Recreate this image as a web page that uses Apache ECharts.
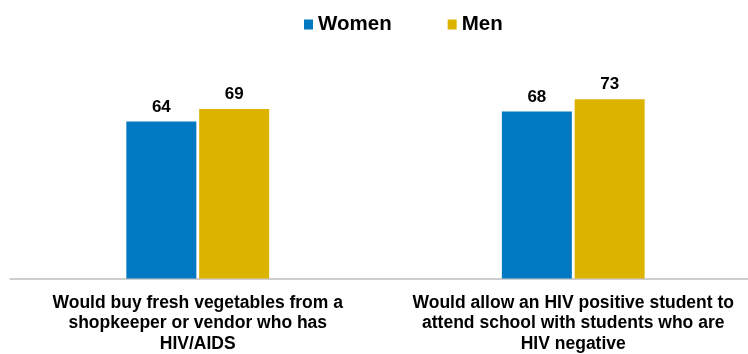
<!DOCTYPE html>
<html>
<head>
<meta charset="utf-8">
<script src="https://cdn.jsdelivr.net/npm/echarts@6/dist/echarts.min.js"></script>
<style>
html,body{margin:0;padding:0;background:#fff;overflow:hidden;width:748px;height:354px;}
#chart{width:761px;height:354px;}
</style>
</head>
<body>
<div id="chart"></div>
<script>
const categories = [
  'Would buy fresh vegetables from a\nshopkeeper or vendor who has\nHIV/AIDS',
  'Would allow an HIV positive student to\nattend school with students who are\nHIV negative'
];
const seriesNames = ['Women', 'Men'];
const women = [64, 68];
const men = [69, 73];

const FONT = "'Liberation Sans', Arial, sans-serif";
const chart = echarts.init(document.getElementById('chart'));
const labelCfg = {
  show: true, position: 'top', distance: 6,
  fontFamily: FONT, fontWeight: 'bold', fontSize: 17, color: '#000'
};
chart.setOption({
  animation: false,
  legend: {
    data: seriesNames,
    left: 304, top: 14, padding: 0,
    icon: 'rect', itemWidth: 9, itemHeight: 10, itemGap: 56,
    textStyle: { fontFamily: FONT, fontWeight: 'bold', fontSize: 20.5, color: '#000' }
  },
  grid: { left: 10, top: 33, right: 0, bottom: 71, containLabel: false },
  xAxis: {
    type: 'category', data: categories,
    axisLine: { lineStyle: { color: '#bfbfbf', width: 1.5 } },
    axisTick: { show: false },
    axisLabel: {
      interval: 0, margin: 14, fontFamily: FONT, fontWeight: 'bold',
      fontSize: 17.5, lineHeight: 20.5, color: '#000', align: 'center'
    }
  },
  yAxis: {
    type: 'value', min: 0, max: 100, show: false,
    splitLine: { show: false }
  },
  series: [
    { name: seriesNames[0], type: 'bar', data: women, barWidth: 70, barGap: '4%',
      itemStyle: { color: '#0079C2' }, label: labelCfg },
    { name: seriesNames[1], type: 'bar', data: men, barWidth: 70, barGap: '4%',
      itemStyle: { color: '#DCB400' }, label: labelCfg }
  ]
});
</script>
</body>
</html>
